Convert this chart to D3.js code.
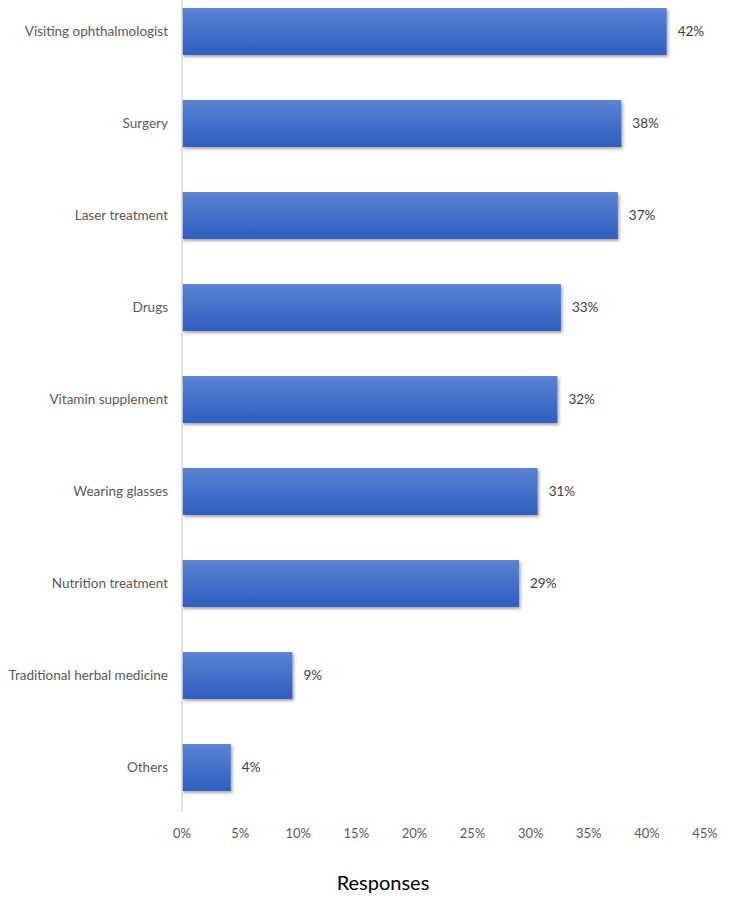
<!DOCTYPE html>
<html>
<head>
<meta charset="utf-8">
<script src="https://cdn.jsdelivr.net/npm/d3@7"></script>
<style>
  body { margin: 0; background: #fff; }
  svg { display: block; font-family: Lato, "Open Sans", sans-serif; }
</style>
</head>
<body>
<svg id="chart" width="750" height="897"></svg>
<script>
// categories and values
const categories = ['Visiting ophthalmologist', 'Surgery', 'Laser treatment', 'Drugs',
  'Vitamin supplement', 'Wearing glasses', 'Nutrition treatment',
  'Traditional herbal medicine', 'Others']
const values = [41.7, 37.8, 37.5, 32.6, 32.3, 30.6, 29.0, 9.5, 4.2]
const labels = ['42%', '38%', '37%', '33%', '32%', '31%', '29%', '9%', '4%']
const ticks = [0, 5, 10, 15, 20, 25, 30, 35, 40, 45]

let svg = d3.select('#chart')

let x = d3.scaleLinear().domain([0, 45]).range([182, 705])
let y = d3.scaleBand().domain(categories).range([-14.5, 813.5])
  .paddingInner(0.49).paddingOuter(0.245)

// bar gradient + soft shadow
let defs = svg.append('defs')
let grad = defs.append('linearGradient').attr('id', 'barGrad')
  .attr('x1', 0).attr('y1', 0).attr('x2', 0).attr('y2', 1)
grad.append('stop').attr('offset', '0%').attr('stop-color', '#5b83d4')
grad.append('stop').attr('offset', '100%').attr('stop-color', '#2e5ec0')

let shadow = defs.append('filter').attr('id', 'shadow')
  .attr('x', '-5%').attr('y', '-10%').attr('width', '115%').attr('height', '130%')
shadow.append('feDropShadow').attr('dx', 1.5).attr('dy', 2).attr('stdDeviation', 1.5)
  .attr('flood-color', '#000').attr('flood-opacity', 0.35)

// bars
svg.selectAll('rect.bar')
  .data(values)
  .enter()
  .append('rect')
  .attr('class', 'bar')
  .attr('x', x(0))
  .attr('y', (d, i) => y(categories[i]))
  .attr('width', d => x(d) - x(0))
  .attr('height', y.bandwidth())
  .attr('fill', 'url(#barGrad)')
  .attr('filter', 'url(#shadow)')

// value labels
svg.selectAll('text.val')
  .data(values)
  .enter()
  .append('text')
  .attr('class', 'val')
  .attr('x', d => x(d) + 11)
  .attr('y', (d, i) => y(categories[i]) + y.bandwidth() / 2)
  .attr('dy', '0.35em')
  .attr('font-size', 13.5)
  .attr('fill', '#404040')
  .text((d, i) => labels[i])

// category axis line
svg.append('line')
  .attr('x1', x(0)).attr('x2', x(0))
  .attr('y1', 0).attr('y2', 812)
  .attr('stroke', '#d9d9d9').attr('stroke-width', 1.5)

// category labels
svg.selectAll('text.cat')
  .data(categories)
  .enter()
  .append('text')
  .attr('class', 'cat')
  .attr('x', 168)
  .attr('y', d => y(d) + y.bandwidth() / 2)
  .attr('dy', '0.35em')
  .attr('text-anchor', 'end')
  .attr('font-size', 13.5)
  .attr('fill', '#595959')
  .text(d => d)

// value axis tick labels
svg.selectAll('text.tick')
  .data(ticks)
  .enter()
  .append('text')
  .attr('class', 'tick')
  .attr('x', d => x(d))
  .attr('y', 833)
  .attr('dy', '0.35em')
  .attr('text-anchor', 'middle')
  .attr('font-size', 13)
  .attr('fill', '#595959')
  .text(d => d + '%')

// axis title
svg.append('text')
  .attr('x', 383)
  .attr('y', 883)
  .attr('dy', '0.35em')
  .attr('text-anchor', 'middle')
  .attr('font-size', 20)
  .attr('fill', '#000')
  .text('Responses')
</script>
</body>
</html>
